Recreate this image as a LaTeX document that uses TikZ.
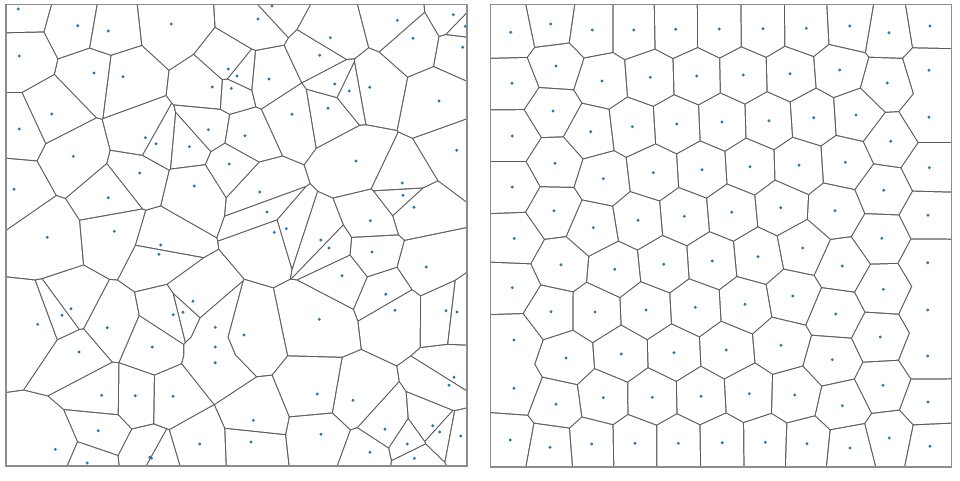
\documentclass[tikz,border=0pt]{standalone}
\definecolor{siteblue}{HTML}{1F77B4}
\definecolor{edgegray}{HTML}{5A5A5A}
\definecolor{framegray}{HTML}{8C8C8C}

% sites in pixel units
\newcommand\randomsites{18.3/9, 77.7/25.7, 108.3/31, 19.3/56, 94/73, 123/76.7, 51.7/114, 19.3/129, 145.3/137.7, 156/143.7, 73.3/156.3, 139.7/173, 14/189.3, 108.3/197.7, 114.3/231.3, 47.3/237.3,
  272/6, 171.3/24, 258/19, 228.3/69, 237/76, 212.3/87, 231.3/88.3, 269/79, 292/114.3, 208.3/129.7, 245/135.7, 189.3/146.7, 229.3/164, 194.3/186, 259.7/192, 267/212, 274.3/232.3, 286.3/228.7,
  397.3/20.3, 453.3/14.7, 465.3/26.3, 330.3/37.7, 413/38.3, 462.7/47.3, 319.7/55.3, 334.7/84, 349.3/91, 369.7/87.3, 439/101, 328/108.3, 456.7/150.3, 356/161, 402.3/183, 403/195.3, 414/207.3, 370.3/220.7,
  71/308.7, 62/315.3, 37.7/324.3, 107.3/327.7, 79/352, 152.3/347, 101.7/395.3, 135.3/395.7, 98.3/430.7, 55.3/449.3, 87.3/463, 149.8/457.2, 151.6/458.2,
  160.7/245, 159/254.3, 193/301.3, 173.3/314.7, 183/312.3, 215.3/327.3, 244/335, 215.3/347, 215.3/362.7, 173/396.3, 253.3/420.3, 199.7/444, 251/442,
  320.7/240, 329/248, 372/252, 426.3/267, 342/275.7, 385.7/294.3, 395/310.3, 446/310.7, 457/312, 319.3/319.3, 454/377.3, 449/385.3, 317.3/394, 353/400.3, 321/434.3, 385/429.3, 432.7/425.7, 439.7/432, 460.7/436, 407.3/444, 370/452.3, 414.3/458.3}
\newcommand\relaxedsites{510.7/32.3, 550.7/24, 592.3/30, 633.7/30, 675.7/29.3, 719.3/29, 512/83.3, 556/66, 602/81, 650.3/77.3, 696.7/76, 553/111, 512.3/136, 590.7/131.7, 632.3/126.7, 676.7/124, 722/122, 555/163.3, 512.3/187, 603.3/178.7, 653.3/172.7, 702/169.7, 554/210.7, 638/220.3, 593.3/227.7, 684.3/216.3, 514.3/238.5,
  763/28.7, 806.3/28.3, 849.7/26, 889/32.7, 930/26, 743.3/75, 790/73.7, 839.7/70, 887.3/83, 929/70.3, 769/120.7, 813.7/117.7, 856/115, 890.7/141.3, 929/117.3, 750/166.7, 799/165.3, 845.3/162.3, 883.7/190.3, 929.3/167.7, 731.7/212.3, 780.7/207.7, 835/210.7, 928/215.3, 881.8/238.3,
  561/264.7, 614.7/269.3, 663.7/264.3, 712.3/261, 512.3/287.7, 551/311.7, 595/312, 646/310, 695.3/307.3, 514/340, 566/358, 621.3/354, 674/352.7, 514/388.3, 556/404.3, 603.3/397.7, 652.3/397.3, 701/396.3, 510.3/440, 550/447.3, 591.7/444, 635/443.3, 678.3/443.3, 722.2/442.7,
  802.7/248, 758/256.7, 842.3/266, 927.7/262.7, 792.7/296, 745/304.3, 883.3/289.3, 835.7/314, 927.7/310, 726.3/350, 781/345.3, 880.3/337, 832.3/359.7, 927.7/356, 749.3/393.7, 794.7/395, 883/385.3, 842.3/405.7, 928/402, 765.3/442.3, 807/443.7, 850/448, 889.3/438, 930/446.3}

\newcommand\edgegap{0.62}

% #1 sites, #2 and #3 frame corners, #4 neighbour radius / 100
\newcommand\voronoipanel[4]{%
  \fill[edgegray] #2 rectangle #3;
  \foreach \xa/\ya [count=\ia] in #1 {
    \begin{scope}
      \clip #2 rectangle #3;
      \foreach \xb/\yb [count=\ib] in #1 {
        \ifnum\ia=\ib\else
          \pgfmathsetmacro\dist{veclen((\xb-\xa)/100,(\yb-\ya)/100)}
          \ifdim\dist pt<#4pt
            \pgfmathsetmacro\ang{atan2(\yb-\ya,\xb-\xa)}
            \pgfmathsetmacro\nx{cos(\ang)}
            \pgfmathsetmacro\ny{sin(\ang)}
            \pgfmathsetmacro\mx{(\xa+\xb)/2-\edgegap*\nx}
            \pgfmathsetmacro\my{(\ya+\yb)/2-\edgegap*\ny}
            \clip ({\mx-1500*\ny},{\my+1500*\nx}) -- ++({-1500*\nx},{-1500*\ny})
              -- ++({3000*\ny},{-3000*\nx}) -- ++({1500*\nx},{1500*\ny}) -- cycle;
          \fi
        \fi
      }
      \fill[white] #2 rectangle #3;
    \end{scope}
  }
  \foreach \xa/\ya in #1 \fill[site] (\xa,\ya) circle (1.6);
  \draw[frame] #2 rectangle #3;
}

\begin{document}
\begin{tikzpicture}[
  x=0.02cm, y=-0.02cm,
  site/.style={siteblue},
  frame/.style={draw=framegray, line width=0.8pt},
]
  \useasboundingbox (0,0) rectangle (960,480);
  \voronoipanel{\randomsites}{(6,4.7)}{(467,465.8)}{1.7}
  \voronoipanel{\relaxedsites}{(490.7,4.7)}{(951.3,467)}{1.2}
\end{tikzpicture}
\end{document}
